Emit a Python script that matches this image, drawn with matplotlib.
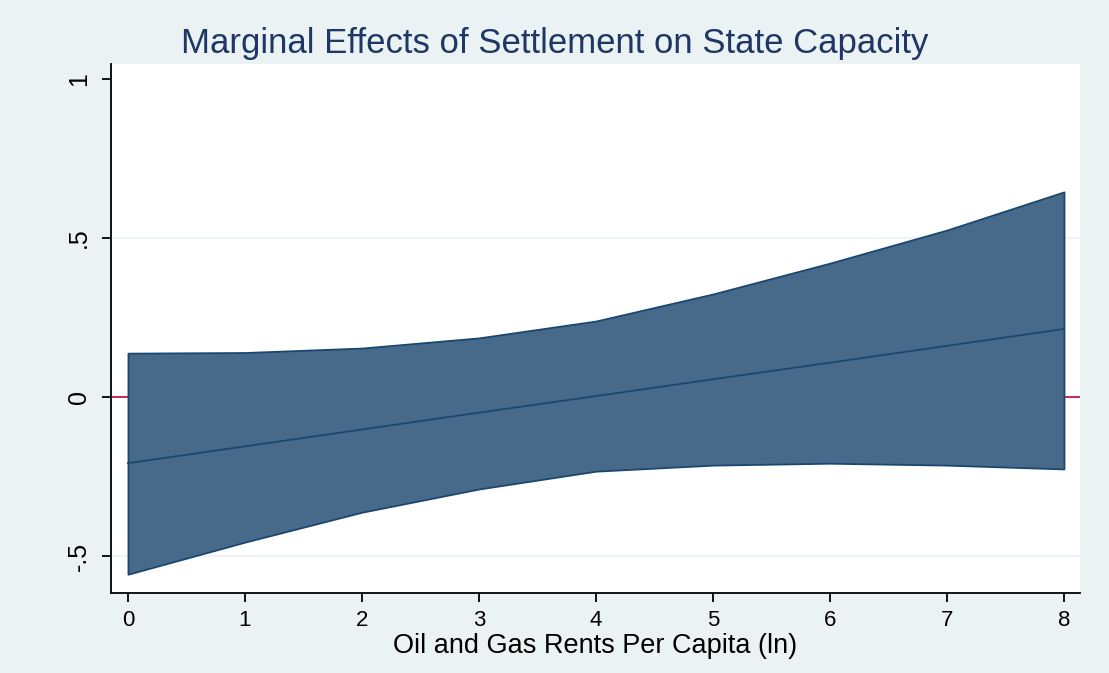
import matplotlib.pyplot as plt

plt.rcParams['font.family'] = ['Liberation Sans', 'DejaVu Sans']

x = [0, 1, 2, 3, 4, 5, 6, 7, 8]
effect = [-0.208, -0.155, -0.102, -0.049, 0.003, 0.056, 0.108, 0.161, 0.214]
upper = [0.138, 0.140, 0.154, 0.186, 0.239, 0.324, 0.421, 0.525, 0.645]
lower = [-0.557, -0.456, -0.362, -0.289, -0.233, -0.214, -0.208, -0.214, -0.226]

yticks = [-0.5, 0, 0.5, 1]
ylabels = ["-.5", "0", ".5", "1"]

bg = "#EAF2F3"
navy = "#1A476F"

fig = plt.figure(figsize=(11.09, 6.73), dpi=100, facecolor=bg)
ax = fig.add_axes([111 / 1109, 80 / 673, 969 / 1109, 529 / 673])
ax.set_facecolor("white")

for g in [-0.5, 0.5]:
    ax.axhline(g, color="#EAF2F3", lw=1.2, zorder=0)
ax.axhline(0, color="#C10534", lw=1.2, zorder=1)

ax.fill_between(x, lower, upper, facecolor="#476A8A", edgecolor=navy, lw=1.3, zorder=2)
ax.plot(x, effect, color=navy, lw=1.3, zorder=3)

ax.set_xlim(-0.145, 8.137)
ax.set_ylim(-0.616, 1.047)
ax.set_xticks(x)
ax.set_yticks(yticks)
ax.set_yticklabels(ylabels, rotation=90, va="center")

for s in ["top", "right"]:
    ax.spines[s].set_visible(False)
for s in ["left", "bottom"]:
    ax.spines[s].set_color("black")
    ax.spines[s].set_linewidth(1.3)
ax.tick_params(axis="both", length=6.5, width=1.3, colors="black")
ax.tick_params(axis="x", pad=6, labelsize=16)
ax.tick_params(axis="y", pad=8, labelsize=18)

ax.set_xlabel("Oil and Gas Rents Per Capita (ln)", fontsize=19.5, labelpad=1)
fig.suptitle("Marginal Effects of Settlement on State Capacity", fontsize=25, color="#1E3764", y=1 - 44 / 673, va="center")

fig.savefig("out.png", dpi=100, facecolor=bg)
